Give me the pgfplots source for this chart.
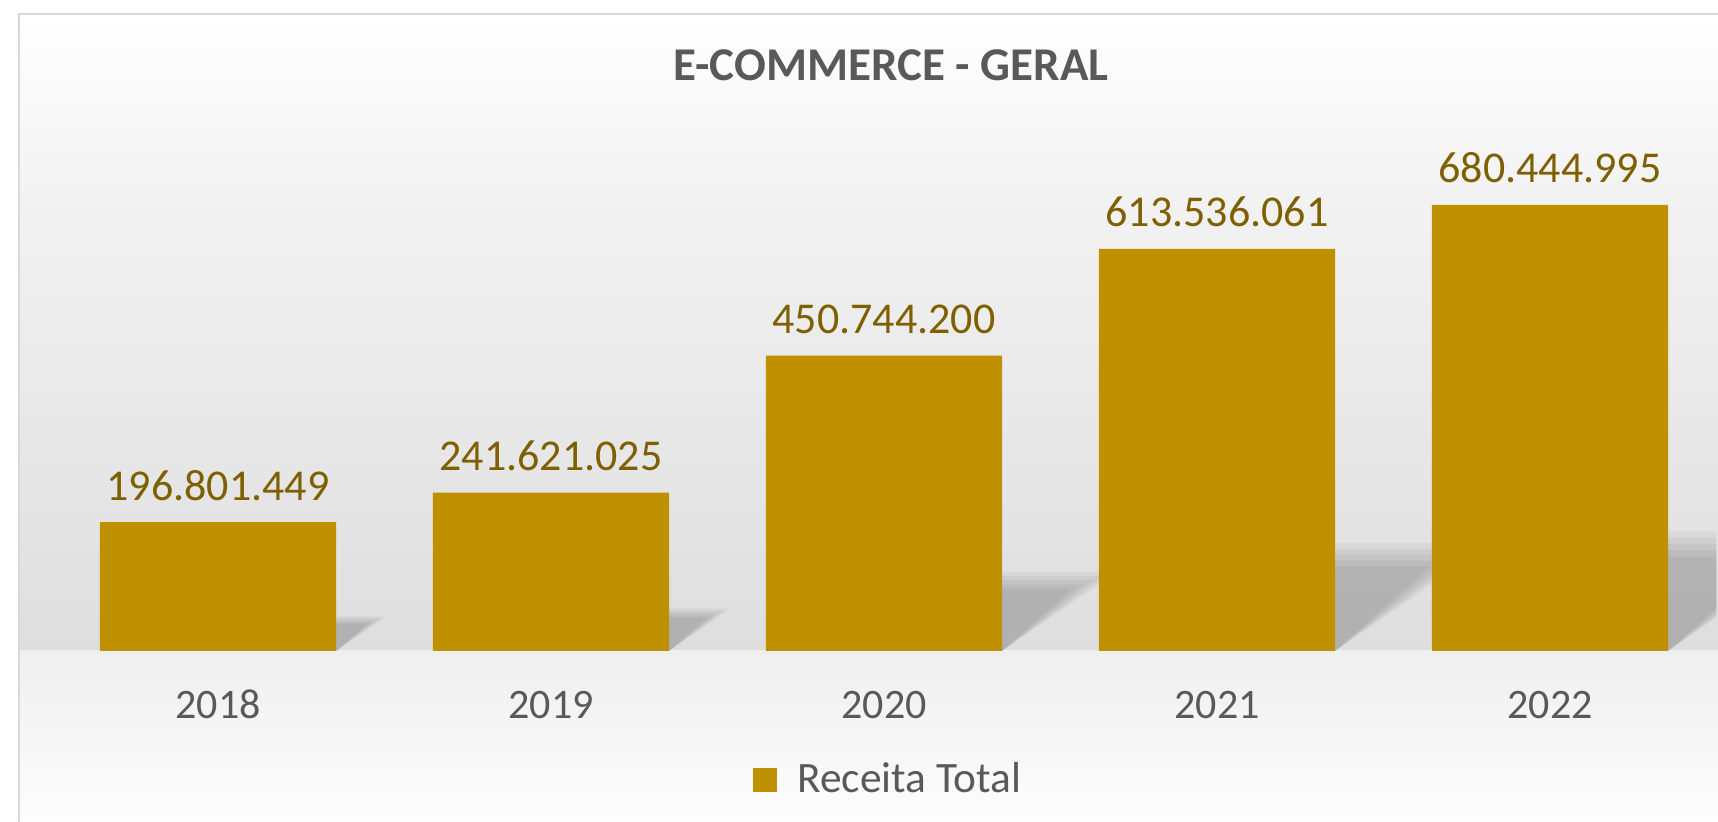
\documentclass[border=0pt]{standalone}
\usepackage{pgfplots}
\pgfplotsset{compat=1.18}
\usepackage{pgfplotstable}
\usepackage{fontspec}
\setmainfont{Carlito}
\definecolor{barcol}{HTML}{BF9000}
\definecolor{labcol}{HTML}{7F6000}
\definecolor{txtgray}{HTML}{595959}
\definecolor{frame}{HTML}{D9D9D9}
\definecolor{gA}{HTML}{F2F2F2}
\definecolor{gB}{HTML}{DEDEDE}
\definecolor{gC}{HTML}{EFEFEF}
\definecolor{gD}{HTML}{FDFDFD}

\pgfplotstableread{
x y lab
0 196801449 196.801.449
1 241621025 241.621.025
2 450744200 450.744.200
3 613536061 613.536.061
4 680444995 680.444.995
}\datatable

% one layer of a soft shadow: R (bar right edge), d (reach), s (height, millions), f, g
\newcommand{\shl}[5]{%
  \pgfmathsetmacro\shx{#1+#5*#2}%
  \pgfmathsetmacro\shy{#4*#3}%
  \edef\shcoords{(#1,0) (\shx,\shy e6) (#1,\shy e6)}%
  \expandafter\shplot\expandafter{\shcoords}%
}
\newcommand{\shplot}[1]{%
  \addplot[fill=black, fill opacity=0.045, draw=none, forget plot] coordinates {#1} --cycle;%
}
\newcommand{\shadow}[3]{%
  \shl{#1}{#2}{#3}{1.12}{1.25}%
  \shl{#1}{#2}{#3}{1.06}{1.12}%
  \shl{#1}{#2}{#3}{1.00}{1.00}%
  \shl{#1}{#2}{#3}{0.94}{0.88}%
  \shl{#1}{#2}{#3}{0.88}{0.76}%
}

\begin{document}
\begin{tikzpicture}
\begin{scope}[x=0.3pt,y=0.3pt]
  \useasboundingbox (0,0) rectangle (1718,822);
  \fill[white] (0,0) rectangle (1718,822);
  \shade[top color=white, bottom color=gA] (19,622) rectangle (1718,808);
  \shade[top color=gA, bottom color=gB] (19,171) rectangle (1718,622.5);
  \shade[top color=gC, bottom color=gD] (19,0) rectangle (1718,171.5);
  \draw[frame, line width=0.6pt] (19,0) -- (19,808) -- (1718,808);
  \node[anchor=base, text=txtgray, font=\fontsize{14.1pt}{17pt}\selectfont\bfseries] at (891,741) {E-COMMERCE - GERAL};
\end{scope}
\begin{axis}[
  at={(15.45pt,51.3pt)}, anchor=south west,
  scale only axis, width=499.5pt, height=153.39pt,
  xmin=-0.5, xmax=4.5, ymin=0, ymax=780e6,
  axis line style={draw=none},
  major tick length=0pt,
  ytick=\empty,
  xtick={0,1,2,3,4},
  xticklabels={2018,2019,2020,2021,2022},
  xticklabel style={font=\fontsize{12.6pt}{15pt}\selectfont, text=txtgray, anchor=base, yshift=-20.4pt, inner sep=0pt},
  legend style={at={(0.4207,-0.2885)}, anchor=south west, draw=none, fill=none, inner sep=0pt,
    font=\fontsize{13pt}{15pt}\selectfont, text=txtgray,
    nodes={inner sep=0pt},
    /tikz/every odd column/.append style={column sep=6.3pt}},
  legend image code/.code={\fill[barcol] (0pt,-3.6pt) rectangle (7.2pt,3.6pt);},
]
% soft perspective shadows behind the bars
\shadow{0.3544}{0.121}{47.2}
\shadow{1.3544}{0.148}{58.0}
\shadow{2.3544}{0.277}{108.2}
\shadow{3.3544}{0.376}{147.2}
\shadow{4.3544}{0.418}{163.3}
\addplot[ybar, bar width=0.709, fill=barcol, draw=none,
  point meta=explicit symbolic,
  nodes near coords,
  every node near coord/.append style={font=\fontsize{13.2pt}{16pt}\selectfont, text=labcol, anchor=base, yshift=6.6pt, inner sep=0pt},
] table[x=x, y=y, meta=lab] {\datatable};
\addlegendentry{Receita Total}
\end{axis}
\end{tikzpicture}
\end{document}
